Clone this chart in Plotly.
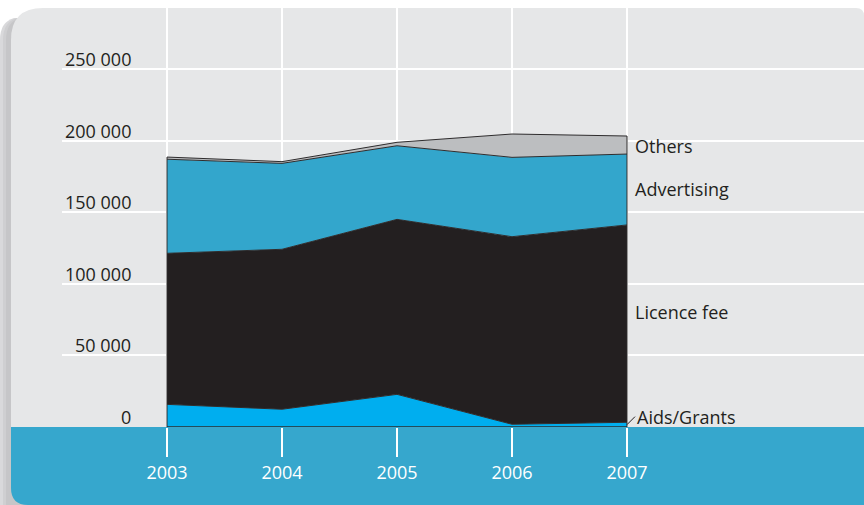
import plotly.graph_objects as go

years = [2003, 2004, 2005, 2006, 2007]
aids_grants = [15800, 12400, 22800, 1900, 3300]
licence_fee = [105500, 111700, 122200, 131000, 137800]
advertising = [65700, 60000, 51400, 55400, 49500]
others = [1500, 1200, 2400, 16300, 12600]
y_ticks = [0, 50000, 100000, 150000, 200000, 250000]
y_tick_labels = ["0", "50 000", "100 000", "150 000", "200 000", "250 000"]

W, H = 864, 505
FONT = "Open Sans"
TXT = "#231f20"
BAND = "#36a7cd"
PANEL = "#e6e7e8"
EDGE = "#2e2c2d"

def px(x):
    return x / W

def py(y):
    return 1 - y / H

# pixel geometry of the panel
X0, X1 = 62, 864          # horizontal grid extent
XY0, XY1 = 167, 627       # 2003 .. 2007
Y_TOP, Y_ZERO, Y_250 = 8, 427, 69

per_year = (XY1 - XY0) / (years[-1] - years[0])
x_lo = years[0] - (XY0 - X0) / per_year
x_hi = years[-1] + (X1 - XY1) / per_year
y_hi = 250000 * (Y_ZERO - Y_TOP) / (Y_ZERO - Y_250)

fig = go.Figure()

series = [
    ("Aids/Grants", aids_grants, "#00aeef"),
    ("Licence fee", licence_fee, "#231f20"),
    ("Advertising", advertising, "#33a6cc"),
    ("Others", others, "#bcbec0"),
]
for name, vals, col in series:
    fig.add_trace(go.Scatter(
        x=years, y=vals, name=name, stackgroup="one", mode="lines",
        line=dict(color=EDGE, width=1), fillcolor=col, hoverinfo="x+y+name",
    ))

totals = [a + b + c + d for a, b, c, d in zip(aids_grants, licence_fee, advertising, others)]
# closing edges of the stacked area
for xi, ti in [(years[0], totals[0]), (years[-1], totals[-1])]:
    fig.add_trace(go.Scatter(x=[xi, xi], y=[0, ti], mode="lines",
                             line=dict(color=EDGE, width=1), hoverinfo="skip"))
fig.add_trace(go.Scatter(x=[years[0], years[-1]], y=[0, 0], mode="lines",
                         line=dict(color=EDGE, width=1.5), hoverinfo="skip"))

shapes = []
# shadow on the left
for off, col in [(11, "#d9d9db"), (8, "#cfcfd1"), (5, "#c6c6c8")]:
    x = 11 - off
    shapes.append(dict(
        type="path", xref="paper", yref="paper", layer="below",
        path=(f"M {px(x)},{py(505)} L {px(x)},{py(40)} Q {px(x)},{py(22)} {px(x+14)},{py(18)} "
              f"L {px(30)},{py(18)} L {px(30)},{py(505)} Z"),
        fillcolor=col, line=dict(width=0),
    ))
# gray panel
shapes.append(dict(
    type="path", xref="paper", yref="paper", layer="below",
    path=(f"M {px(11)},{py(Y_ZERO)} L {px(11)},{py(40)} Q {px(11)},{py(8)} {px(43)},{py(8)} "
          f"L {px(856)},{py(8)} Q {px(864)},{py(8)} {px(864)},{py(16)} L {px(864)},{py(Y_ZERO)} Z"),
    fillcolor=PANEL, line=dict(width=0),
))
# blue band
shapes.append(dict(
    type="path", xref="paper", yref="paper", layer="below",
    path=(f"M {px(11)},{py(Y_ZERO)} L {px(864)},{py(Y_ZERO)} L {px(864)},{py(505)} "
          f"L {px(28)},{py(505)} Q {px(11)},{py(505)} {px(11)},{py(488)} Z"),
    fillcolor=BAND, line=dict(width=0),
))

annotations = []
for v, t in zip(y_ticks, y_tick_labels):
    annotations.append(dict(
        x=px(133), xref="paper", y=v, yref="y", text=t, showarrow=False,
        xanchor="right", yanchor="bottom", yshift=-4,
        font=dict(family=FONT, size=18, color=TXT),
    ))

label_font = dict(family=FONT, size=18, color=TXT)
annotations.append(dict(x=years[-1], y=196500, text="Others", showarrow=False,
                        xanchor="left", xshift=6, font=label_font))
annotations.append(dict(x=years[-1], y=166500, text="Advertising", showarrow=False,
                        xanchor="left", xshift=6, font=label_font))
annotations.append(dict(x=years[-1], y=80500, text="Licence fee", showarrow=False,
                        xanchor="left", xshift=6, font=label_font))
annotations.append(dict(x=years[-1], y=aids_grants[-1] * 0.5, text="Aids/Grants",
                        showarrow=True, arrowhead=0, arrowwidth=1, arrowcolor=TXT,
                        ax=8, ay=-8, xanchor="left", yanchor="middle",
                        font=label_font, standoff=0, startstandoff=0))

fig.update_layout(
    width=W, height=H,
    margin=dict(l=0, r=0, t=0, b=0),
    paper_bgcolor="white", plot_bgcolor="rgba(0,0,0,0)",
    showlegend=False,
    shapes=shapes, annotations=annotations,
    xaxis=dict(
        domain=[px(X0), 1], range=[x_lo, x_hi],
        tickvals=years, ticktext=[str(y) for y in years],
        showgrid=True, gridcolor="white", gridwidth=1.5,
        ticks="outside", ticklen=29, tickwidth=1.5, tickcolor="white",
        tickfont=dict(family=FONT, size=18, color="white"),
        zeroline=False, showline=False, fixedrange=True,
    ),
    yaxis=dict(
        domain=[py(Y_ZERO), py(Y_TOP)], range=[0, y_hi],
        tickvals=y_ticks, showticklabels=False,
        showgrid=True, gridcolor="white", gridwidth=1.5,
        zeroline=False, showline=False, fixedrange=True,
    ),
)

fig.write_html("out.html", config={"displayModeBar": False},
               post_script="document.body.style.margin='0';document.body.style.overflow='hidden';")
